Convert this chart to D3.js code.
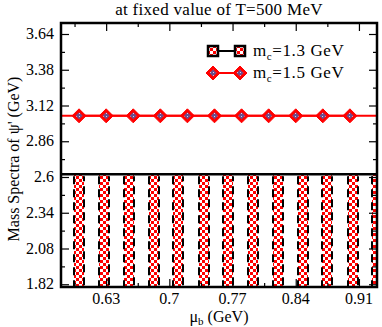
<!DOCTYPE html>
<html>
<head>
<meta charset="utf-8">
<script src="https://cdn.jsdelivr.net/npm/d3@7"></script>
<style>
  body { margin: 0; background: #fff; }
  svg text { font-family: "Liberation Serif", "DejaVu Serif", serif; }
</style>
</head>
<body>
<script>
// values
var mc13Mu = [0.600, 0.628, 0.655, 0.683, 0.710, 0.738, 0.765, 0.793, 0.820, 0.848, 0.875, 0.903, 0.930];
var mc13Mass = [2.62, 2.62, 2.62, 2.62, 2.62, 2.62, 2.62, 2.62, 2.62, 2.62, 2.62, 2.62, 2.62];
var mc15Mu = [0.60, 0.63, 0.66, 0.69, 0.72, 0.75, 0.78, 0.81, 0.84, 0.87, 0.90];
var mc15Mass = [3.045, 3.045, 3.045, 3.045, 3.045, 3.045, 3.045, 3.045, 3.045, 3.045, 3.045];
var xTicks = [0.63, 0.70, 0.77, 0.84, 0.91];
var xMinor = [0.595, 0.665, 0.735, 0.805, 0.875];
var yTicks = [1.82, 2.08, 2.34, 2.60, 2.86, 3.12, 3.38, 3.64];
var yMinor = [1.95, 2.21, 2.47, 2.73, 2.99, 3.25, 3.51];
var legendLabels = ["1.3 GeV", "1.5 GeV"];

var W = 382, H = 327;
var margin = {top: 23, right: 5, bottom: 40, left: 61},
    width = W - margin.left - margin.right,
    height = H - margin.top - margin.bottom;

var svg = d3.select("body").append("svg").attr("width", W).attr("height", H)
    .attr("font-family", "Liberation Serif, DejaVu Serif, serif");
var defs = svg.append("defs");

// red / white checker fill of the squares
var chk = defs.append("pattern").attr("id", "chk").attr("patternUnits", "userSpaceOnUse")
    .attr("width", 6).attr("height", 6);
chk.append("rect").attr("width", 6).attr("height", 6).attr("fill", "#fff");
chk.append("rect").attr("width", 3).attr("height", 3).attr("fill", "#ff0000");
chk.append("rect").attr("x", 3).attr("y", 3).attr("width", 3).attr("height", 3).attr("fill", "#ff0000");

// purple dotted fill inside the diamonds
var dots = defs.append("pattern").attr("id", "dots").attr("patternUnits", "userSpaceOnUse")
    .attr("width", 3).attr("height", 3);
dots.append("rect").attr("width", 3).attr("height", 3).attr("fill", "#6a4f8e");
dots.append("rect").attr("width", 1).attr("height", 1).attr("fill", "#d8d0e8");

defs.append("clipPath").attr("id", "clip").append("rect").attr("width", width).attr("height", height);

var main = svg.append("g").attr("transform", "translate(" + margin.left + "," + margin.top + ")");

var x = d3.scaleLinear().domain([0.58, 0.93]).range([0, width]);
var y = d3.scaleLinear().domain([1.80, 3.72]).range([height, 0]);

var plot = main.append("g").attr("clip-path", "url(#clip)");

// m_c = 1.3 GeV : stacked square markers under the line
var cols = plot.selectAll(".col").data(mc13Mu).enter().append("g");
cols.append("rect")
    .attr("x", function (d) { return Math.round(x(d)) - 5; })
    .attr("y", function (d, i) { return Math.round(y(mc13Mass[i])); })
    .attr("width", 10)
    .attr("height", function (d, i) { return height - Math.round(y(mc13Mass[i])); })
    .attr("fill", "url(#chk)");
[-5, 5].forEach(function (off, k) {
    cols.append("line")
        .attr("x1", function (d) { return Math.round(x(d)) + off; })
        .attr("x2", function (d) { return Math.round(x(d)) + off; })
        .attr("y1", function (d, i) { return y(mc13Mass[i]) + 2; })
        .attr("y2", height)
        .attr("stroke", "#000").attr("stroke-width", 2)
        .attr("stroke-dasharray", "8,5")
        .attr("stroke-dashoffset", k * 3);
});
plot.append("line")
    .attr("x1", 0).attr("x2", width)
    .attr("y1", y(mc13Mass[0])).attr("y2", y(mc13Mass[0]))
    .attr("stroke", "#000").attr("stroke-width", 2.5);

// m_c = 1.5 GeV
var line = d3.line().x(function (d) { return x(d); }).y(function (d, i) { return y(mc15Mass[i]); });
plot.append("line")
    .attr("x1", 0).attr("x2", width)
    .attr("y1", y(mc15Mass[0])).attr("y2", y(mc15Mass[0]))
    .attr("stroke", "#ff0000").attr("stroke-width", 2);
plot.append("path").datum(mc15Mu).attr("d", line).attr("fill", "none")
    .attr("stroke", "#ff0000").attr("stroke-width", 2);

function diamond(g, cx, cy) {
    g.append("path").attr("d", "M" + cx + "," + (cy - 7) + "L" + (cx + 7) + "," + cy + "L" + cx + "," + (cy + 7) + "L" + (cx - 7) + "," + cy + "Z")
        .attr("fill", "#ff0000").attr("stroke", "#ff0000").attr("stroke-width", 1);
    g.append("path").attr("d", "M" + cx + "," + (cy - 3.5) + "L" + (cx + 3.5) + "," + cy + "L" + cx + "," + (cy + 3.5) + "L" + (cx - 3.5) + "," + cy + "Z")
        .attr("fill", "url(#dots)");
}
mc15Mu.forEach(function (d, i) { diamond(plot, x(d), y(mc15Mass[i])); });

// axes, ticks inward on all four sides
function ticks(axisGen, vals, size, transform) {
    main.append("g").attr("transform", transform)
        .call(axisGen.tickValues(vals).tickSize(size).tickFormat(""))
        .call(function (g) { g.select(".domain").remove(); g.selectAll("line").attr("stroke-width", 1.2); });
}
ticks(d3.axisTop(x), xTicks, 8, "translate(0," + height + ")");
ticks(d3.axisTop(x), xMinor, 4, "translate(0," + height + ")");
ticks(d3.axisBottom(x), xTicks, 8, "translate(0,0)");
ticks(d3.axisBottom(x), xMinor, 4, "translate(0,0)");
ticks(d3.axisRight(y), yTicks, 8, "translate(0,0)");
ticks(d3.axisRight(y), yMinor, 4, "translate(0,0)");
ticks(d3.axisLeft(y), yTicks, 8, "translate(" + width + ",0)");
ticks(d3.axisLeft(y), yMinor, 4, "translate(" + width + ",0)");

main.append("g").selectAll("text").data(xTicks).enter().append("text")
    .attr("x", function (d) { return x(d); }).attr("y", height + 17)
    .attr("text-anchor", "middle").attr("font-size", 16)
    .text(function (d) { return String(+d.toFixed(2)); });
main.append("g").selectAll("text").data(yTicks).enter().append("text")
    .attr("x", -7).attr("y", function (d) { return y(d) + 5; })
    .attr("text-anchor", "end").attr("font-size", 16)
    .text(function (d) { return String(+d.toFixed(2)); });

main.append("rect").attr("width", width).attr("height", height)
    .attr("fill", "none").attr("stroke", "#000").attr("stroke-width", 2.5);

// labels
svg.append("text").attr("x", 219).attr("y", 15).attr("text-anchor", "middle")
    .attr("font-size", 17).attr("letter-spacing", 0.3).text("at fixed value of T=500 MeV");
var xl = svg.append("text").attr("x", 219).attr("y", 322).attr("text-anchor", "middle").attr("font-size", 16);
xl.append("tspan").text("μ");
xl.append("tspan").attr("font-size", 11).attr("dy", 3).text("b");
xl.append("tspan").attr("dy", -3).text(" (GeV)");
svg.append("text").attr("transform", "translate(19,159) rotate(-90)").attr("text-anchor", "middle")
    .attr("font-size", 16).text("Mass Spectra of ψ' (GeV)");

// legend
var lg = svg.append("g");
var ly = [51, 73];
lg.append("line").attr("x1", 213).attr("x2", 240).attr("y1", ly[0]).attr("y2", ly[0]).attr("stroke", "#000").attr("stroke-width", 2);
[213, 240].forEach(function (cx) {
    lg.append("rect").attr("x", cx - 5).attr("y", ly[0] - 5).attr("width", 10).attr("height", 10)
        .attr("fill", "url(#chk)").attr("stroke", "#000").attr("stroke-width", 2.5);
});
lg.append("line").attr("x1", 213).attr("x2", 240).attr("y1", ly[1]).attr("y2", ly[1]).attr("stroke", "#ff0000").attr("stroke-width", 2);
[213, 240].forEach(function (cx) { diamond(lg, cx, ly[1]); });
legendLabels.forEach(function (t, i) {
    var tx = lg.append("text").attr("x", 253).attr("y", ly[i] + 5).attr("font-size", 17)
        .attr("letter-spacing", 0.6);
    tx.append("tspan").text("m");
    tx.append("tspan").attr("font-size", 11).attr("dy", 4).text("c");
    tx.append("tspan").attr("dy", -4).text("=" + t);
});
</script>
</body>
</html>
